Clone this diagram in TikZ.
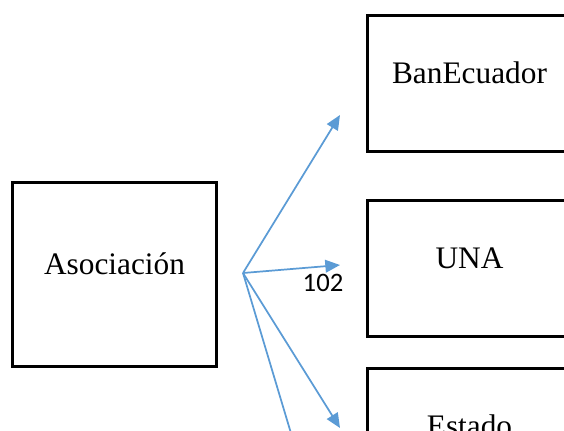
\documentclass[tikz,border=0pt]{standalone}
\usepackage{fontspec}
\setmainfont{Liberation Serif}
\newfontfamily\calibri{Carlito}
\usepackage{tikz}
\usetikzlibrary{arrows.meta, positioning}
\definecolor{flowblue}{RGB}{91,155,213}

\begin{document}
\begin{tikzpicture}[x=0.75pt, y=-0.75pt,
	entity/.style={draw, line width=2.4pt, minimum width=153pt, minimum height=102pt, inner sep=0pt, text height=12pt, text depth=12pt, font=\fontsize{23.5}{28}\selectfont},
	flow/.style={flowblue, line width=1.3pt, -{Triangle[length=11pt, width=9.5pt]}}]
	\useasboundingbox (0,0) rectangle (564,430);
	\clip (0,0) rectangle (564,430);
	\node[entity, minimum height=138pt] (asoc) at (114.5,274.5) {Asociación};
	\node[entity] (banecuador) at (469.5,83.5) {BanEcuador};
	\node[entity] (una) at (469.5,268.5) {UNA};
	\node[entity] (estado) at (469.5,436.5) {Estado};
	
	\coordinate (hub) at (243,273);
	\coordinate (tobanecuador) at (340,115);
	\coordinate (touna) at (340,265);
	\coordinate (toestado) at (340,428);
	\coordinate (tobelow) at (305,480);
	\draw[flow] (hub) -- (tobanecuador);
	\draw[flow] (hub) -- (touna);
	\draw[flow] (hub) -- (toestado);
	\draw[flow] (hub) -- (tobelow);
	\node[font=\calibri\fontsize{20}{24}\selectfont, inner sep=0pt] (amount) at (323,283) {102};
\end{tikzpicture}
\end{document}
